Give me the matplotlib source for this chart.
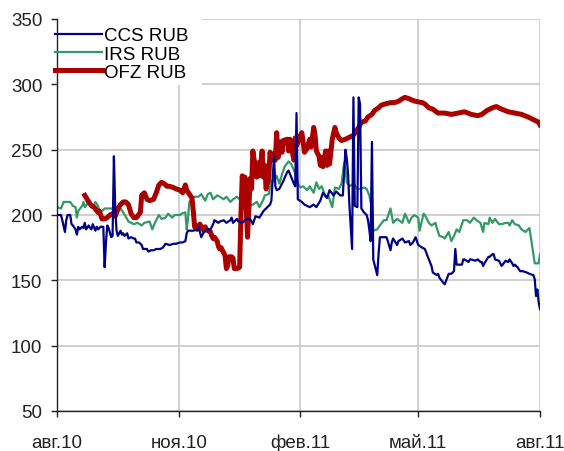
import numpy as np
import matplotlib
matplotlib.use("Agg")
import matplotlib.pyplot as plt
from matplotlib.patches import Rectangle

plt.rcParams["font.family"] = ["Liberation Sans", "DejaVu Sans"]

start = np.datetime64("2010-08-01")

# days since 1 Aug 2010, spread in bp
ccs_days = [0, 3, 4, 6, 7, 8, 10, 11, 12, 14, 15, 16, 17, 19, 20, 21, 22, 24, 25, 26, 27, 29, 30, 31,
            33, 35, 36, 37, 38, 39, 41, 42, 43, 44, 45, 46, 48, 49, 50, 51, 53, 54, 56, 58, 59, 60,
            62, 64, 65, 68, 69, 71, 73, 75, 78, 80, 82, 85, 88, 90, 93, 95, 97, 98, 99, 102, 103,
            106, 107, 108, 109, 111, 113, 116, 118, 119, 122, 123, 126, 128, 131, 132, 133, 135,
            136, 137, 140, 142, 143, 146, 148, 150, 153, 156, 158, 161, 162, 164, 165, 166, 168,
            171, 174, 175, 177, 179, 180, 181, 182, 185, 187, 189, 191, 194, 196, 199, 201, 204,
            206, 209, 211, 214, 216, 218, 219, 220, 221, 223, 224, 225, 227, 228, 229, 230, 232,
            234, 235, 236, 237, 238, 239, 242, 243, 244, 247, 249, 250, 252, 253, 254, 257, 258,
            261, 263, 266, 267, 269, 271, 273, 276, 278, 281, 283, 284, 287, 288, 289, 292, 293,
            296, 298, 300, 301, 302, 303, 306, 307, 308, 311, 312, 313, 316, 318, 320, 321, 322,
            323, 326, 327, 329, 330, 331, 334, 336, 339, 341, 342, 344, 345, 346, 348, 350, 352,
            355, 357, 360, 361, 362, 363, 364, 365]
ccs_vals = [200, 200, 196, 187, 196, 200, 200, 193, 192, 189, 185, 191, 189, 191, 190, 194, 189, 192,
            190, 189, 193, 188, 191, 189, 191, 191, 160, 179, 192, 190, 183, 184, 245, 205, 188, 184,
            188, 185, 186, 184, 186, 182, 183, 182, 182, 179, 179, 177, 174, 174, 172, 173, 173, 174,
            174, 175, 178, 177, 178, 178, 179, 179, 180, 186, 188, 188, 188, 189, 191, 187, 183, 187,
            189, 189, 193, 196, 194, 195, 196, 194, 196, 198, 194, 196, 197, 195, 194, 196, 197, 197,
            193, 199, 198, 203, 205, 208, 211, 245, 222, 219, 220, 226, 233, 234, 229, 224, 222, 278,
            212, 210, 208, 207, 206, 208, 206, 211, 217, 213, 219, 215, 218, 215, 215, 250, 243, 231,
            207, 174, 290, 207, 206, 290, 285, 205, 202, 200, 196, 189, 180, 256, 166, 154, 170, 183,
            183, 183, 180, 173, 179, 182, 177, 180, 182, 179, 180, 177, 179, 183, 177, 175, 174, 166,
            161, 156, 154, 155, 152, 148, 147, 155, 155, 157, 174, 162, 162, 162, 166, 166, 164, 166,
            166, 165, 166, 164, 164, 161, 163, 168, 168, 170, 170, 166, 165, 161, 165, 164, 166, 163,
            161, 162, 160, 157, 157, 156, 155, 154, 151, 138, 143, 133, 128]

irs_days = [0, 3, 5, 10, 12, 14, 15, 16, 19, 20, 21, 24, 26, 27, 29, 31, 32, 34, 36, 39, 41, 44, 46,
            48, 50, 53, 54, 58, 61, 64, 66, 70, 72, 74, 77, 79, 82, 84, 87, 89, 93, 94, 97, 98, 99,
            100, 102, 104, 107, 109, 112, 114, 116, 118, 121, 123, 126, 128, 131, 133, 136, 138, 142,
            146, 148, 151, 153, 156, 157, 160, 162, 164, 166, 168, 170, 172, 175, 177, 180, 182, 184,
            186, 189, 191, 194, 196, 198, 200, 203, 205, 208, 210, 213, 215, 217, 218, 219, 221, 224,
            227, 229, 232, 234, 236, 238, 239, 242, 244, 247, 249, 252, 254, 257, 261, 263, 266, 268,
            270, 273, 274, 277, 278, 281, 283, 286, 287, 289, 292, 293, 296, 298, 300, 302, 304, 307,
            310, 312, 315, 317, 320, 322, 323, 326, 327, 329, 331, 334, 336, 339, 341, 342, 344, 346,
            349, 351, 354, 357, 359, 361, 364, 365]
irs_vals = [206, 205, 210, 210, 207, 206, 198, 203, 207, 210, 206, 210, 208, 206, 210, 207, 203, 203,
            205, 205, 205, 204, 202, 205, 202, 197, 195, 193, 194, 192, 194, 195, 189, 194, 200, 197,
            198, 201, 198, 200, 200, 201, 202, 189, 197, 210, 212, 214, 214, 216, 211, 216, 217, 212,
            215, 214, 212, 214, 210, 212, 214, 212, 212, 207, 208, 210, 206, 212, 215, 216, 226, 226,
            230, 224, 231, 237, 241, 239, 232, 224, 221, 222, 219, 222, 217, 225, 220, 222, 214, 215,
            206, 221, 220, 224, 240, 235, 225, 222, 224, 220, 220, 221, 220, 215, 205, 188, 189, 192,
            196, 196, 205, 194, 197, 194, 201, 194, 198, 200, 198, 188, 201, 200, 194, 192, 194, 190,
            184, 183, 182, 187, 180, 184, 189, 187, 196, 196, 194, 198, 196, 194, 187, 194, 193, 198,
            194, 197, 193, 193, 194, 194, 192, 196, 193, 192, 189, 187, 190, 177, 163, 163, 170]

ofz_days = [21, 24, 26, 28, 31, 32, 34, 36, 38, 40, 42, 44, 46, 48, 50, 52, 54, 56, 58, 60, 63, 64,
            66, 68, 70, 73, 75, 77, 79, 81, 83, 85, 88, 90, 93, 95, 97, 98, 100, 102, 103, 104, 106,
            107, 108, 109, 111, 112, 113, 114, 116, 117, 118, 119, 121, 122, 123, 124, 126, 127, 128,
            129, 130, 132, 133, 134, 136, 138, 139, 140, 141, 142, 144, 146, 147, 148, 150, 151, 152,
            153, 155, 156, 157, 158, 160, 161, 162, 164, 165, 166, 167, 169, 170, 171, 174, 175, 176,
            179, 180, 181, 184, 185, 186, 187, 189, 191, 192, 194, 195, 196, 198, 199, 200, 201, 203,
            204, 205, 206, 208, 210, 211, 213, 215, 218, 220, 224, 228, 230, 233, 235, 238, 240, 243,
            245, 248, 252, 255, 258, 261, 263, 266, 268, 271, 276, 278, 281, 284, 288, 293, 298, 303,
            308, 313, 318, 321, 325, 329, 332, 336, 341, 346, 351, 356, 360, 364, 365]
ofz_vals = [215, 210, 207, 206, 202, 203, 197, 197, 198, 200, 201, 199, 205, 208, 210, 210, 208, 201,
            198, 198, 202, 215, 217, 212, 211, 212, 217, 223, 225, 224, 222, 222, 221, 220, 219, 217,
            223, 219, 216, 213, 203, 191, 189, 192, 193, 191, 188, 191, 189, 188, 187, 184, 182, 183,
            180, 176, 174, 175, 171, 169, 159, 161, 168, 168, 167, 159, 159, 160, 200, 230, 222, 229,
            183, 228, 220, 249, 235, 229, 240, 230, 249, 229, 238, 220, 228, 248, 242, 247, 242, 263,
            244, 256, 248, 257, 258, 249, 258, 242, 259, 253, 261, 263, 256, 248, 251, 258, 252, 267,
            261, 249, 245, 238, 244, 237, 249, 238, 249, 239, 258, 267, 263, 259, 257, 258, 259, 261,
            267, 271, 272, 275, 277, 280, 282, 284, 285, 286, 286, 287, 289, 290, 289, 288, 287, 286,
            285, 282, 281, 278, 278, 277, 278, 279, 277, 276, 277, 280, 282, 283, 281, 279, 278, 277,
            275, 273, 271, 269]

tick_days = [0, 92, 184, 273, 365]
tick_labels = ["авг.10", "ноя.10", "фев.11", "май.11", "авг.11"]

fig = plt.figure(figsize=(5.64, 4.52), dpi=100)
ax = fig.add_axes([57 / 564, 1 - 412 / 452, 483 / 564, 392 / 452])

ax.plot(start + np.array(irs_days), irs_vals, color="#339966", lw=1.6, zorder=2, label="IRS RUB")
ax.plot(start + np.array(ofz_days), ofz_vals, color="#aa0000", lw=3.6, zorder=3, label="OFZ RUB",
        solid_joinstyle="round")
ax.plot(start + np.array(ccs_days), ccs_vals, color="#000088", lw=1.6, zorder=4, label="CCS RUB")

ax.set_xlim(start, start + 365)
ax.set_ylim(50, 350)
ax.set_yticks(range(50, 351, 50))
ax.set_xticks(start + np.array(tick_days))
ax.set_xticklabels(tick_labels)

ax.set_axisbelow(True)
ax.grid(True, color="#c8c8c8", lw=1.2)
for s in ["top", "right"]:
    ax.spines[s].set_visible(False)
for s in ["left", "bottom"]:
    ax.spines[s].set_color("#222222")
    ax.spines[s].set_linewidth(1.0)
ax.tick_params(axis="both", labelsize=13.5, colors="#222222", length=4.5, width=1.0)
ax.tick_params(axis="y", pad=6)
ax.tick_params(axis="x", pad=12)

# white box behind the legend hides the grid
ax.add_patch(Rectangle((0, 0.832), 0.30, 0.17, transform=ax.transAxes,
                       facecolor="white", edgecolor="none", zorder=1, clip_on=False))

h, l = ax.get_legend_handles_labels()
order = [2, 0, 1]
ax.legend([h[i] for i in order], [l[i] for i in order], loc="upper left",
          bbox_to_anchor=(-0.004, 0.979), borderaxespad=0, borderpad=0, frameon=False,
          fontsize=13.5, handlelength=2.5, handletextpad=0.12, labelspacing=0.06)

fig.savefig("out.png", dpi=100)
